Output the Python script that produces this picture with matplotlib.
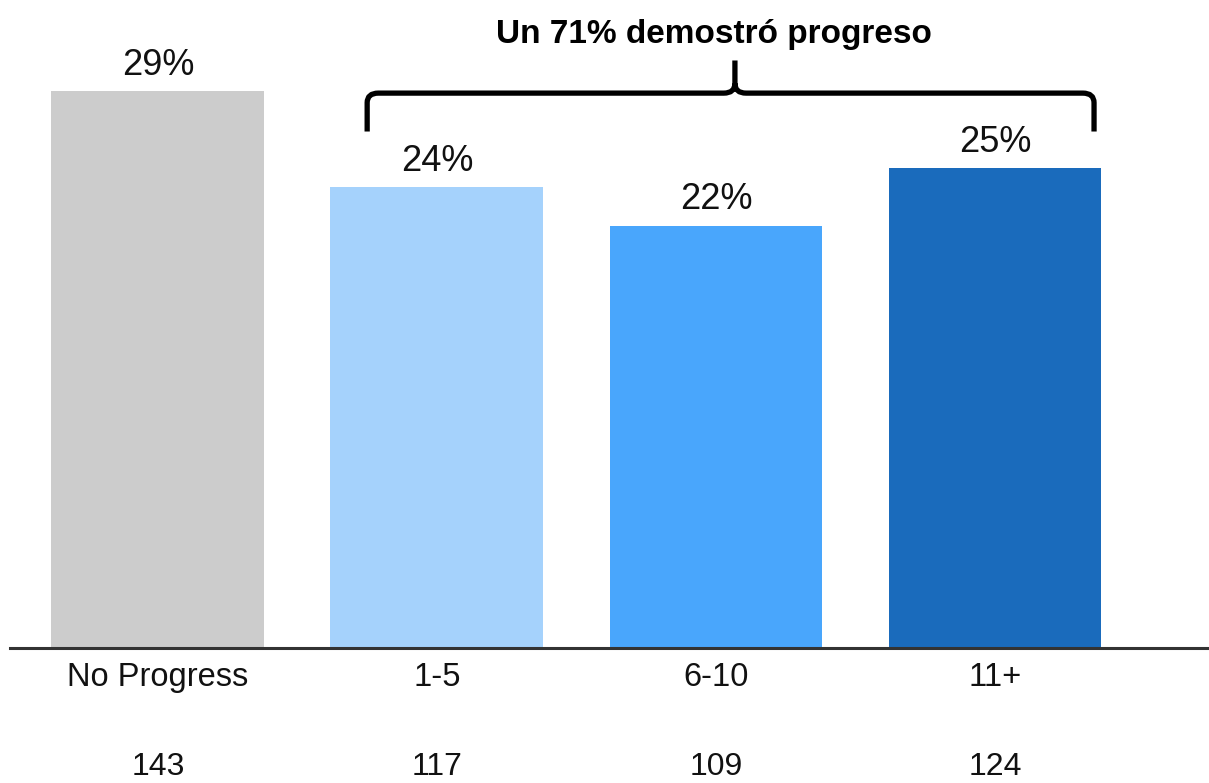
import matplotlib.pyplot as plt
from matplotlib.path import Path
from matplotlib.patches import PathPatch
import matplotlib.transforms as mtransforms

plt.rcParams['font.family'] = ['Liberation Sans', 'DejaVu Sans']

categories = ["No Progress", "1-5", "6-10", "11+"]
shares = [29, 24, 22, 25]
counts = [143, 117, 109, 124]
colors = ["#CCCCCC", "#A5D2FC", "#49A6FC", "#1A6BBC"]
brace_text = "Un 71% demostró progreso"

fig = plt.figure(figsize=(12.09, 7.83), dpi=100)
ax = fig.add_axes([10 / 1209, 135 / 783, 1 - 10 / 1209, 648 / 783])

xs = list(range(len(categories)))
bars = ax.bar(xs, shares, width=0.763, color=colors, zorder=2)

for b, v in zip(bars, shares):
    ax.annotate(f"{v}%", (b.get_x() + b.get_width() / 2, b.get_height()),
                xytext=(0, 6), textcoords="offset points",
                ha="center", va="bottom", fontsize=26, color="#111111")

ax.set_xlim(-0.53, 3.767)
ax.set_ylim(0, 33.75)

for s in ["top", "right", "left"]:
    ax.spines[s].set_visible(False)
ax.spines["bottom"].set_color("#333333")
ax.spines["bottom"].set_linewidth(2.2)
ax.set_yticks([])
ax.set_xticks(xs)
ax.set_xticklabels(categories, fontsize=23.5, color="#111111")
ax.tick_params(axis="x", length=0, pad=10)

trans = mtransforms.blended_transform_factory(ax.transData, ax.transAxes)
for x, n in zip(xs, counts):
    ax.text(x, -0.196, str(n), transform=trans, ha="center", va="baseline",
            fontsize=23, color="#111111")

# curly brace over the progress bars
x0, x1, xm = 0.75, 3.355, 2.068
yb, yh, yt = 26.9, 28.9, 30.6
r = 0.04
rh = 0.5
verts = [
    (x0, yb), (x0, yh - rh), (x0, yh), (x0 + r, yh),
    (xm - r, yh), (xm, yh), (xm, yh + rh),
    (xm, yt),
    (xm, yh + rh), (xm, yh), (xm + r, yh),
    (x1 - r, yh), (x1, yh), (x1, yh - rh),
    (x1, yb),
]
codes = [Path.MOVETO, Path.LINETO, Path.CURVE3, Path.CURVE3,
         Path.LINETO, Path.CURVE3, Path.CURVE3,
         Path.LINETO,
         Path.MOVETO, Path.CURVE3, Path.CURVE3,
         Path.LINETO, Path.CURVE3, Path.CURVE3,
         Path.LINETO]
ax.add_patch(PathPatch(Path(verts, codes), fill=False, lw=3.8,
                       edgecolor="black", capstyle="butt", joinstyle="round",
                       clip_on=False, zorder=3))
ax.text(1.991, 31.5, brace_text, ha="center", va="baseline",
        fontsize=24, fontweight="bold", color="black")

fig.savefig("out.png", dpi=100, facecolor="white")
